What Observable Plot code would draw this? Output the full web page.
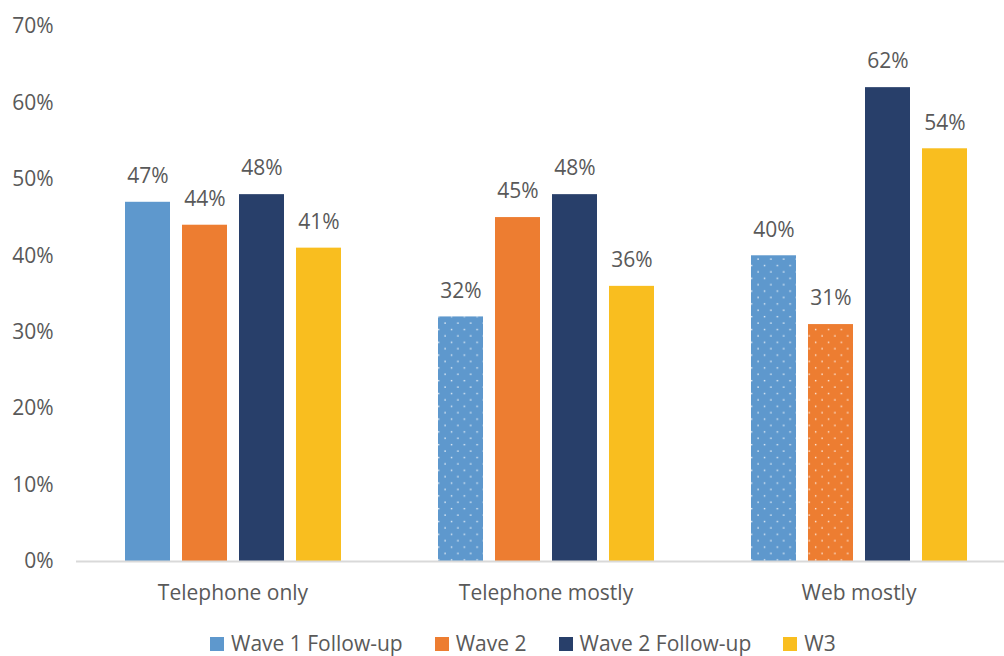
<!DOCTYPE html>
<html><head><meta charset="utf-8">
<script src="https://cdn.jsdelivr.net/npm/d3@7"></script>
<script src="https://cdn.jsdelivr.net/npm/@observablehq/plot@0.6"></script>
<style>
body{margin:0;background:#fff;overflow:hidden;font-family:"Open Sans",sans-serif;}
#legend{height:36px;overflow:hidden;padding-left:210px;padding-top:9px;box-sizing:border-box;font-size:21px;color:#595959;white-space:nowrap;line-height:normal;}
.sw{display:inline-block;width:14px;height:14px;margin-right:7px;}
.item{margin-right:32px;}
</style></head><body><div id="chart"></div><div id="legend"></div>
<script>
const categories = ["Telephone only", "Telephone mostly", "Web mostly"];
const series = ["Wave 1 Follow-up", "Wave 2", "Wave 2 Follow-up", "W3"];
const colors = ["#5e98cd", "#ed7d31", "#283f6a", "#f9be1f"];
const wave1FollowUp = [47, 32, 40];
const wave2 = [44, 45, 31];
const wave2FollowUp = [48, 48, 62];
const w3 = [41, 36, 54];
const wave1FollowUpDotted = [false, true, true];
const wave2Dotted = [false, false, true];
const wave2FollowUpDotted = [false, false, false];
const w3Dotted = [false, false, false];
const yTicks = [0, 10, 20, 30, 40, 50, 60, 70];

const valuesBySeries = [wave1FollowUp, wave2, wave2FollowUp, w3];
const dottedBySeries = [wave1FollowUpDotted, wave2Dotted, wave2FollowUpDotted, w3Dotted];
const data = [];
categories.forEach((c, ci) => series.forEach((s, si) => {
  data.push({category: c, series: s, value: valuesBySeries[si][ci], dotted: dottedBySeries[si][ci]});
}));

const plot = Plot.plot({
  width: 1004, height: 620,
  marginTop: 26, marginBottom: 59, marginLeft: 75, marginRight: -11,
  style: {fontFamily: "'Open Sans', sans-serif", fontSize: "21px", color: "#595959", background: "#fff"},
  fx: {domain: categories, padding: 0, label: null, axis: "bottom", tickSize: 0, tickPadding: 24},
  x: {domain: series, paddingInner: 12 / 57, paddingOuter: 48.5 / 57, axis: null},
  y: {domain: [0, 70], ticks: yTicks, tickFormat: d => d + "%", tickSize: 0, tickPadding: 23, label: null},
  color: {domain: series, range: colors},
  marks: [
    Plot.barY(data, {fx: "category", x: "series", y: "value", fill: "series"}),
    Plot.barY(data.filter(d => d.dotted), {fx: "category", x: "series", y: "value", fill: "url(#dots)"}),
    Plot.ruleY([0], {stroke: "#d9d9d9", strokeWidth: 2}),
    Plot.text(data, {fx: "category", x: "series", y: "value", text: d => d.value + "%", dy: -26, fill: "#595959"})
  ]
});

const svg = d3.select(plot);
const defs = svg.insert("defs", ":first-child");
const p = defs.append("pattern").attr("id", "dots").attr("patternUnits", "userSpaceOnUse")
  .attr("width", 12.8).attr("height", 12.8);
p.append("rect").attr("x", 2.4).attr("y", 2.4).attr("width", 1.4).attr("height", 1.4).attr("fill", "#fff").attr("fill-opacity", 0.85);
p.append("rect").attr("x", 8.8).attr("y", 8.8).attr("width", 1.4).attr("height", 1.4).attr("fill", "#fff").attr("fill-opacity", 0.85);

document.getElementById("chart").appendChild(plot);

const legend = document.getElementById("legend");
series.forEach((s, i) => {
  const item = document.createElement("span");
  item.className = "item";
  const sw = document.createElement("span");
  sw.className = "sw";
  sw.style.background = colors[i];
  item.appendChild(sw);
  item.appendChild(document.createTextNode(s));
  legend.appendChild(item);
});
</script>
</body></html>
